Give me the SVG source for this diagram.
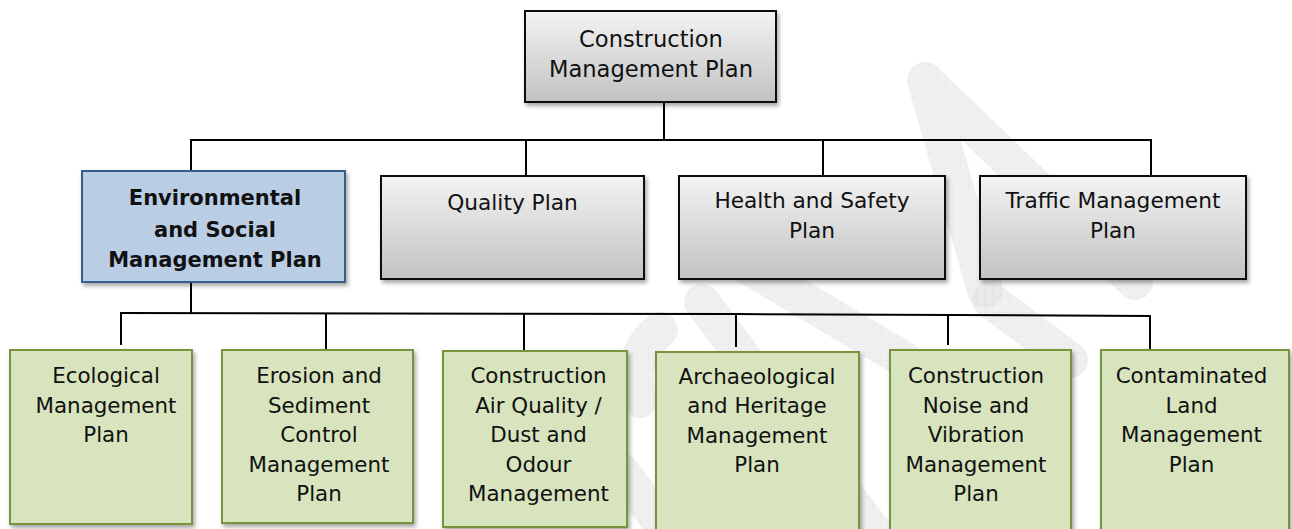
<svg xmlns="http://www.w3.org/2000/svg" width="1292" height="529" viewBox="0 0 1292 529">
  <defs>
    <linearGradient id="grey" x1="0" y1="0" x2="0" y2="1">
      <stop offset="0" stop-color="#f3f3f3"/>
      <stop offset="1" stop-color="#c2c2c2"/>
    </linearGradient>
    <filter id="shadow" x="-10%" y="-10%" width="125%" height="130%">
      <feDropShadow dx="2" dy="3" stdDeviation="2" flood-color="#000" flood-opacity="0.35"/>
    </filter>
    <pattern id="grid" width="8" height="8" patternUnits="userSpaceOnUse">
      <rect width="8" height="8" fill="#e4e4e4"/>
      <path d="M0 0H8M0 0V8" stroke="#d6d6d6" stroke-width="1"/>
    </pattern>
  </defs>
  <style>
    .t { font-family: "DejaVu Sans", Verdana, sans-serif; font-size: 21.4px; fill: #111; text-anchor: middle; }
    .g { font-size: 21.7px; }
    .top { font-size: 22.6px; }
    .b { font-weight: bold; font-size: 21px; }
    .grey { fill: url(#grey); stroke: #111; stroke-width: 2; filter: url(#shadow); }
    .blue { fill: #b9cde5; stroke: #385d8a; stroke-width: 2; filter: url(#shadow); }
    .green { fill: #d7e4bd; stroke: #77933c; stroke-width: 2; filter: url(#shadow); }
    .wm { fill: none; stroke: url(#grid); stroke-width: 36; stroke-linecap: round; stroke-linejoin: round; opacity: 0.55; }
    .c { fill: none; stroke: #000; stroke-width: 2; }
  </style>
  <rect width="1292" height="529" fill="#fff"/>

  <g id="watermark">
    <path class="wm" d="M985 290 L925 80 L1135 282"/>
    <path class="wm" d="M702 302 L880 540"/>
    <path class="wm" d="M720 250 L905 360 L1040 560"/>
    <path class="wm" d="M640 400 A60 60 0 0 1 660 330"/>
    <path class="wm" d="M620 470 L690 560"/>
    <path class="wm" d="M990 300 L1070 360"/>
  </g>

  <g id="connectors">
    <line class="c" x1="664" y1="102" x2="664" y2="140"/>
    <line class="c" x1="190" y1="140" x2="1152" y2="140"/>
    <line class="c" x1="191" y1="139" x2="191" y2="171"/>
    <line class="c" x1="526" y1="140" x2="526" y2="176"/>
    <line class="c" x1="823" y1="140" x2="823" y2="176"/>
    <line class="c" x1="1151" y1="139" x2="1151" y2="176"/>
    <line class="c" x1="191" y1="282" x2="191" y2="313"/>
    <polyline class="c" points="120,313 736,314 1151,316"/>
    <line class="c" x1="121" y1="312" x2="121" y2="345"/>
    <line class="c" x1="326" y1="313" x2="326" y2="349"/>
    <line class="c" x1="524" y1="314" x2="524" y2="350"/>
    <line class="c" x1="736" y1="313" x2="736" y2="347" stroke-width="3"/>
    <line class="c" x1="948" y1="315" x2="948" y2="345"/>
    <line class="c" x1="1150" y1="315" x2="1150" y2="349"/>
  </g>

  <g id="construction-management-plan">
    <rect class="grey" x="525" y="11" width="251" height="91"/>
    <text class="t top" x="651" y="47">Construction</text>
    <text class="t top" x="651" y="77">Management Plan</text>
  </g>

  <g id="environmental-social">
    <rect class="blue" x="82" y="171" width="263" height="111"/>
    <text class="t b" x="215" y="205">Environmental</text>
    <text class="t b" x="215" y="237">and Social</text>
    <text class="t b" x="215" y="267">Management Plan</text>
  </g>

  <g id="quality-plan">
    <rect class="grey" x="381" y="176" width="263" height="103"/>
    <text class="t g" x="512.5" y="210">Quality Plan</text>
  </g>

  <g id="health-safety-plan">
    <rect class="grey" x="679" y="176" width="266" height="103"/>
    <text class="t g" x="812" y="208">Health and Safety</text>
    <text class="t g" x="812" y="238">Plan</text>
  </g>

  <g id="traffic-management-plan">
    <rect class="grey" x="980" y="176" width="266" height="103"/>
    <text class="t g" x="1113" y="208">Traffic Management</text>
    <text class="t g" x="1113" y="238">Plan</text>
  </g>

  <g id="ecological">
    <rect class="green" x="10" y="350" width="182" height="174"/>
    <text class="t" x="106" y="383">Ecological</text>
    <text class="t" x="106" y="412.5">Management</text>
    <text class="t" x="106" y="442">Plan</text>
  </g>

  <g id="erosion-sediment">
    <rect class="green" x="222" y="350" width="191" height="173"/>
    <text class="t" x="319" y="383">Erosion and</text>
    <text class="t" x="319" y="412.5">Sediment</text>
    <text class="t" x="319" y="442">Control</text>
    <text class="t" x="319" y="471.5">Management</text>
    <text class="t" x="319" y="501">Plan</text>
  </g>

  <g id="air-quality">
    <rect class="green" x="443" y="351" width="184" height="176"/>
    <text class="t" x="538.5" y="383">Construction</text>
    <text class="t" x="538.5" y="412.5">Air Quality /</text>
    <text class="t" x="538.5" y="442">Dust and</text>
    <text class="t" x="538.5" y="471.5">Odour</text>
    <text class="t" x="538.5" y="501">Management</text>
  </g>

  <g id="archaeological-heritage">
    <rect class="green" x="656" y="352" width="203" height="190"/>
    <text class="t" x="757" y="383.5">Archaeological</text>
    <text class="t" x="757" y="413">and Heritage</text>
    <text class="t" x="757" y="442.5">Management</text>
    <text class="t" x="757" y="472">Plan</text>
  </g>

  <g id="noise-vibration">
    <rect class="green" x="890" y="350" width="181" height="190"/>
    <text class="t" x="976" y="383">Construction</text>
    <text class="t" x="976" y="412.5">Noise and</text>
    <text class="t" x="976" y="442">Vibration</text>
    <text class="t" x="976" y="471.5">Management</text>
    <text class="t" x="976" y="501">Plan</text>
  </g>

  <g id="contaminated-land">
    <rect class="green" x="1101" y="350" width="188" height="190"/>
    <text class="t" x="1191.5" y="383">Contaminated</text>
    <text class="t" x="1191.5" y="412.5">Land</text>
    <text class="t" x="1191.5" y="442">Management</text>
    <text class="t" x="1191.5" y="471.5">Plan</text>
  </g>
</svg>
